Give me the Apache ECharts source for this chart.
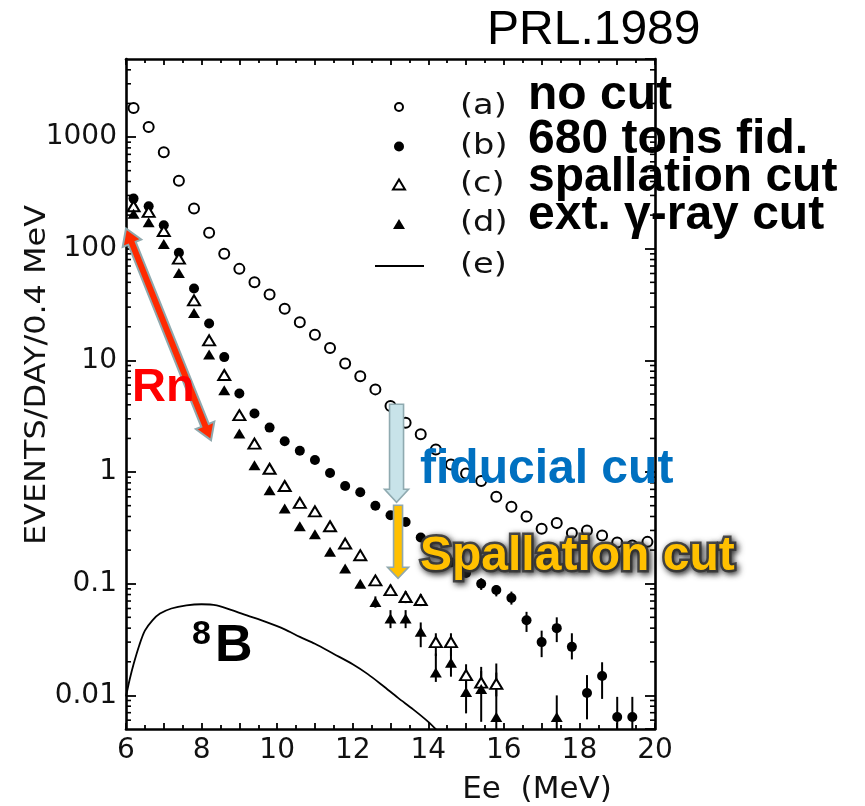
<!DOCTYPE html>
<html>
<head>
<meta charset="utf-8">
<script src="https://cdn.jsdelivr.net/npm/echarts@6/dist/echarts.min.js"></script>
<style>
  html, body { margin: 0; padding: 0; background: #fff; }
  #chart { width: 865px; height: 806px; }
</style>
</head>
<body>
<div id="chart"></div>
<script>
// Electron energy bins (MeV), 0.4 MeV wide
const energyBins = [6.2, 6.6, 7.0, 7.4, 7.8, 8.2, 8.6, 9.0, 9.4, 9.8, 10.2, 10.6, 11.0, 11.4, 11.8, 12.2, 12.6, 13.0, 13.4, 13.8,
  14.2, 14.6, 15.0, 15.4, 15.8, 16.2, 16.6, 17.0, 17.4, 17.8, 18.2, 18.6, 19.0, 19.4, 19.8];

// (a) no cut
const noCut = [1820, 1230, 730, 407, 229, 139, 90, 66, 50, 39, 29, 22, 17, 12.9, 9.4, 7.2, 5.5, 3.9, 2.77, 2.18,
  1.59, 1.17, 0.97, 0.83, 0.60, 0.49, 0.40, 0.31, 0.35, 0.285, 0.30, 0.27, 0.234, 0.22, 0.237];

// (b) 680 tons fiducial volume
const fiducial680 = [281, 240, 162, 92, 44, 21.4, 10.7, 5.05, 3.34, 2.50, 1.89, 1.55, 1.28, 0.98, 0.75, 0.66, 0.50, 0.41, 0.357, 0.259,
  0.19, 0.155, 0.125, 0.100, 0.088, 0.0746, 0.047, 0.030, 0.040, 0.0272, 0.0105, 0.0149, 0.0064, 0.0064, null];

// (c) spallation cut
const spallationCut = [240, 214, 144, 81.5, 34.5, 15.1, 7.4, 3.23, 1.80, 1.07, 0.75, 0.53, 0.445, 0.327, 0.229, 0.18, 0.107, 0.0875, 0.076, 0.0715,
  0.030, 0.030, 0.0152, 0.013, 0.0127, null, null, null, null, null, null, null, null, null, null];

// (d) external gamma-ray cut
const gammaCut = [206, 173, 110, 60.5, 26.5, 11.3, 5.4, 2.21, 1.15, 0.687, 0.471, 0.327, 0.277, 0.193, 0.137, 0.100, 0.0687, 0.0488, 0.0488, 0.0372,
  0.016, 0.0196, 0.0107, 0.0114, 0.0064, null, null, null, 0.0064, null, null, null, null, null, null];

// Error bars: [energy, low, high]
const fiducial680Err = [[15.4, 0.088, 0.112], [15.8, 0.077, 0.097], [16.2, 0.065, 0.085], [16.6, 0.037, 0.056], [17.0, 0.022, 0.038],
  [17.4, 0.030, 0.050], [17.8, 0.021, 0.036], [18.2, 0.0061, 0.0152], [18.6, 0.0093, 0.0198], [19.0, 0.003, 0.0097], [19.4, 0.003, 0.0097]];
const spallationCutErr = [[13.0, 0.078, 0.098], [13.4, 0.067, 0.086], [13.8, 0.063, 0.081], [14.2, 0.0225, 0.036], [14.6, 0.0225, 0.036],
  [15.0, 0.0111, 0.019], [15.4, 0.0105, 0.0165], [15.8, 0.0098, 0.016]];
const gammaCutErr = [[12.6, 0.061, 0.077], [13.0, 0.040, 0.058], [13.4, 0.040, 0.058], [13.8, 0.027, 0.045], [14.2, 0.0132, 0.0237],
  [14.6, 0.0147, 0.0256], [15.0, 0.0069, 0.0174], [15.4, 0.0058, 0.018], [15.8, 0.003, 0.0193], [17.4, 0.003, 0.010]];

// (e) expected 8B solar neutrino spectrum
const b8Energy = [6.0, 6.1, 6.2, 6.35, 6.5, 6.7, 6.9, 7.2, 7.6, 8.0, 8.4, 8.8, 9.2, 9.7, 10.2, 10.6, 11.0, 11.5, 12.0, 12.4, 12.8, 13.2, 13.6, 14.0, 14.3];
const b8Rate = [0.0098, 0.014, 0.019, 0.028, 0.038, 0.047, 0.054, 0.060, 0.064, 0.0655, 0.064, 0.058, 0.052, 0.0455, 0.039, 0.0334, 0.029, 0.0235, 0.019, 0.0155, 0.0122, 0.0095, 0.0075, 0.0058, 0.0046];

// Axis labels and legend text
const xTickLabels = [6, 8, 10, 12, 14, 16, 18, 20];
const yTickLabels = [0.01, 0.1, 1, 10, 100, 1000];
const legendNames = ['(a)', '(b)', '(c)', '(d)', '(e)'];
const legendNotes = ['no cut', '680 tons fid.', 'spallation cut', 'ext. \u03b3-ray cut'];

const SCAN_FONT = '"DejaVu Sans", sans-serif';
const BOLD_FONT = '"Liberation Sans", Arial, sans-serif';

const pairs = (xs, ys) => xs.map((x, i) => [x, ys[i]]).filter(p => p[1] != null);

// log-decade minor ticks (2..9 per decade) inside the frame
const minorLogValues = [];
for (let k = -3; k <= 3; k++) {
  for (let m = 2; m <= 9; m++) {
    const v = +(m * Math.pow(10, k)).toPrecision(6);
    if (v > 0.005 && v < 5000) minorLogValues.push([6, v]);
  }
}

function errorBars(rows) {
  return {
    type: 'custom', clip: true, silent: true, z: 3,
    encode: { x: 0, y: [1, 2] },
    data: rows,
    renderItem: (params, api) => {
      const x = api.value(0);
      const lo = api.coord([x, api.value(1)]);
      const hi = api.coord([x, api.value(2)]);
      return { type: 'line', shape: { x1: lo[0], y1: lo[1], x2: hi[0], y2: hi[1] },
        style: { stroke: '#000', lineWidth: 2 } };
    }
  };
}

const axisLineStyle = { color: '#000', width: 2.6 };
const tickStyle = { color: '#000', width: 1.8 };

// marker styles shared by the series and the legend keys
const markers = {
  '(a)': { symbol: 'emptyCircle', size: 10, style: { color: '#000', borderColor: '#000', borderWidth: 2, opacity: 1 } },
  '(b)': { symbol: 'circle', size: 10, style: { color: '#000', opacity: 1 } },
  '(c)': { symbol: 'emptyTriangle', size: [12, 10], style: { color: '#000', borderColor: '#000', borderWidth: 2, opacity: 1 } },
  '(d)': { symbol: 'triangle', size: [12, 10], style: { color: '#000', opacity: 1 } }
};

const chart = echarts.init(document.getElementById('chart'), null, { renderer: 'canvas' });

const scatterSeries = (name, values) => ({
  name, type: 'scatter', symbol: markers[name].symbol, symbolSize: markers[name].size, z: 5,
  itemStyle: markers[name].style,
  data: pairs(energyBins, values)
});

const option = {
  animation: false,
  backgroundColor: '#fff',
  grid: { left: 126, top: 59, width: 529, height: 670, outerBoundsMode: 'none', containLabel: false },
  xAxis: [
    {
      type: 'value', min: 6, max: 20, interval: 1, position: 'bottom',
      axisLine: { show: true, onZero: false, lineStyle: axisLineStyle },
      axisTick: { show: true, inside: true, length: 6, lineStyle: tickStyle },
      minorTick: { show: true, splitNumber: 2, length: 4, lineStyle: tickStyle },
      splitLine: { show: false },
      axisLabel: {
        margin: 8, fontFamily: SCAN_FONT, fontSize: 28, color: '#111',
        formatter: v => (xTickLabels.includes(Math.round(v * 100) / 100) ? String(Math.round(v)) : '')
      }
    },
    {
      type: 'value', min: 6, max: 20, interval: 1, position: 'top',
      axisLine: { show: true, onZero: false, lineStyle: axisLineStyle },
      axisTick: { show: true, inside: true, length: 6, lineStyle: tickStyle },
      minorTick: { show: true, splitNumber: 2, length: 4, lineStyle: tickStyle },
      splitLine: { show: false },
      axisLabel: { show: false }
    }
  ],
  yAxis: [
    {
      type: 'log', logBase: 10, min: 0.005, max: 5000, position: 'left',
      axisLine: { show: true, onZero: false, lineStyle: axisLineStyle },
      axisTick: { show: true, inside: true, length: 10, lineStyle: tickStyle },
      splitLine: { show: false },
      axisLabel: {
        margin: 9, fontFamily: SCAN_FONT, fontSize: 28, color: '#111',
        showMinLabel: false, showMaxLabel: false,
        formatter: v => {
          const r = +(+v).toPrecision(6);
          return yTickLabels.includes(r) ? String(r) : '';
        }
      }
    },
    {
      type: 'log', logBase: 10, min: 0.005, max: 5000, position: 'right',
      axisLine: { show: true, onZero: false, lineStyle: axisLineStyle },
      axisTick: { show: true, inside: true, length: 10, lineStyle: tickStyle },
      splitLine: { show: false },
      axisLabel: { show: false }
    }
  ],
  series: [
    {
      // frame minor ticks for the logarithmic axis
      type: 'custom', silent: true, z: 1, encode: { x: 0, y: 1 }, data: minorLogValues,
      renderItem: (params, api) => {
        const v = api.value(1);
        const l = api.coord([6, v]);
        const r = api.coord([20, v]);
        return { type: 'group', children: [
          { type: 'line', shape: { x1: l[0], y1: l[1], x2: l[0] + 5, y2: l[1] }, style: { stroke: '#000', lineWidth: 1.6 } },
          { type: 'line', shape: { x1: r[0], y1: r[1], x2: r[0] - 5, y2: r[1] }, style: { stroke: '#000', lineWidth: 1.6 } }
        ] };
      }
    },
    errorBars(fiducial680Err),
    errorBars(spallationCutErr),
    errorBars(gammaCutErr),
    scatterSeries('(a)', noCut),
    scatterSeries('(b)', fiducial680),
    scatterSeries('(c)', spallationCut),
    scatterSeries('(d)', gammaCut),
    {
      name: '(e)', type: 'line', symbol: 'none', showSymbol: false, smooth: 0.3, z: 4,
      lineStyle: { color: '#000', width: 1.8 },
      itemStyle: { color: '#000' },
      data: pairs(b8Energy, b8Rate)
    }
  ]
};

chart.setOption(option);

// Annotations placed in data coordinates
const rnArrow = { from: [6.0, 152], to: [8.25, 1.93] };
const fidArrow = { from: [13.16, 4.05], to: [13.16, 0.537] };
const spallArrow = { from: [13.2, 0.505], to: [13.2, 0.112] };

function arrowPoints(p0, p1, shaftW, headW, headL, doubleHead) {
  const dx = p1[0] - p0[0], dy = p1[1] - p0[1];
  const L = Math.hypot(dx, dy);
  const ux = dx / L, uy = dy / L, nx = -uy, ny = ux;
  const pt = (s, t) => [p0[0] + ux * s + nx * t, p0[1] + uy * s + ny * t];
  const h = shaftW / 2, H = headW / 2;
  const pts = [];
  if (doubleHead) pts.push(pt(0, 0), pt(headL, H), pt(headL, h)); else pts.push(pt(0, h));
  pts.push(pt(L - headL, h), pt(L - headL, H), pt(L, 0), pt(L - headL, -H), pt(L - headL, -h));
  if (doubleHead) pts.push(pt(headL, -h), pt(headL, -H)); else pts.push(pt(0, -h));
  return pts;
}

const px = v => chart.convertToPixel({ seriesIndex: 4 }, v);

const boldText = (text, x, y, size, fill, extra) => ({
  type: 'text', x, y, z: 100,
  style: Object.assign({ text, fontFamily: BOLD_FONT, fontWeight: 'bold', fontSize: size, fill, align: 'left', verticalAlign: 'middle' }, extra || {})
});

// Legend keys
const keyX = 399;
const keyRows = [107, 146.5, 184.5, 224, 266];
const triPts = (cx, cy) => [[cx - 6, cy + 5], [cx + 6, cy + 5], [cx, cy - 5]];
const legendGraphics = [
  { type: 'circle', z: 100, shape: { cx: keyX, cy: keyRows[0], r: 4 }, style: { fill: '#fff', stroke: '#000', lineWidth: 2 } },
  { type: 'circle', z: 100, shape: { cx: keyX, cy: keyRows[1], r: 5 }, style: { fill: '#000' } },
  { type: 'polygon', z: 100, shape: { points: triPts(keyX, keyRows[2]) }, style: { fill: '#fff', stroke: '#000', lineWidth: 2 } },
  { type: 'polygon', z: 100, shape: { points: triPts(keyX, keyRows[3]) }, style: { fill: '#000' } },
  { type: 'line', z: 100, shape: { x1: 375, y1: keyRows[4], x2: 424, y2: keyRows[4] }, style: { stroke: '#000', lineWidth: 1.8 } }
].concat(legendNames.map((n, i) => ({
  type: 'text', x: 460, y: keyRows[i], z: 100,
  style: { text: n, fontFamily: SCAN_FONT, fontSize: 28, fill: '#111', align: 'left', verticalAlign: 'middle' },
  scaleX: 1.2
})));

const graphics = [
  { type: 'polygon', z: 90, shape: { points: arrowPoints(px(rnArrow.from), px(rnArrow.to), 8, 20, 16, true) },
    style: { fill: '#FF2A00', stroke: '#8FA9AE', lineWidth: 2 } },
  { type: 'polygon', z: 90, shape: { points: arrowPoints(px(fidArrow.from), px(fidArrow.to), 14, 24, 13, false) },
    style: { fill: '#C8E3E9', stroke: '#8FAAB0', lineWidth: 1.6 } },
  { type: 'polygon', z: 90, shape: { points: arrowPoints(px(spallArrow.from), px(spallArrow.to), 9, 21, 11, false) },
    style: { fill: '#FFC000', stroke: '#90A8AE', lineWidth: 1.6 } },

  { type: 'text', x: 487, y: 31, z: 100,
    style: { text: 'PRL.1989', fontFamily: BOLD_FONT, fontSize: 48, fill: '#000', align: 'left', verticalAlign: 'middle' } },

  { type: 'text', x: 38, y: 375, rotation: Math.PI / 2, scaleX: 1.14, z: 100,
    style: { text: 'EVENTS/DAY/0.4 MeV', fontFamily: SCAN_FONT, fontSize: 28, fill: '#111', align: 'center', verticalAlign: 'middle' } },
  { type: 'text', x: 537, y: 790, z: 100,
    style: { text: 'Ee  (MeV)', fontFamily: SCAN_FONT, fontSize: 31, fill: '#111', align: 'center', verticalAlign: 'middle' } },

  boldText(legendNotes[0], 528, 96, 48, '#000'),
  boldText(legendNotes[1], 528, 140, 48, '#000'),
  boldText(legendNotes[2], 528, 178, 48, '#000'),
  boldText(legendNotes[3], 528, 216, 48, '#000'),

  boldText('fiducial cut', 420, 470, 48, '#0070C0'),
  boldText('Spallation cut', 420, 557, 48, '#FFC000',
    { stroke: 'rgba(60,60,60,0.9)', lineWidth: 5, strokeFirst: true,
      textShadowColor: 'rgba(40,40,40,0.9)', textShadowBlur: 6, textShadowOffsetX: 2, textShadowOffsetY: 2 }),
  boldText('Rn', 132, 388, 47, '#FF0000'),
  boldText('8', 192, 635, 34, '#000'),
  boldText('B', 215, 647, 52, '#000')
].concat(legendGraphics);

chart.setOption({ graphic: graphics });
</script>
</body>
</html>
